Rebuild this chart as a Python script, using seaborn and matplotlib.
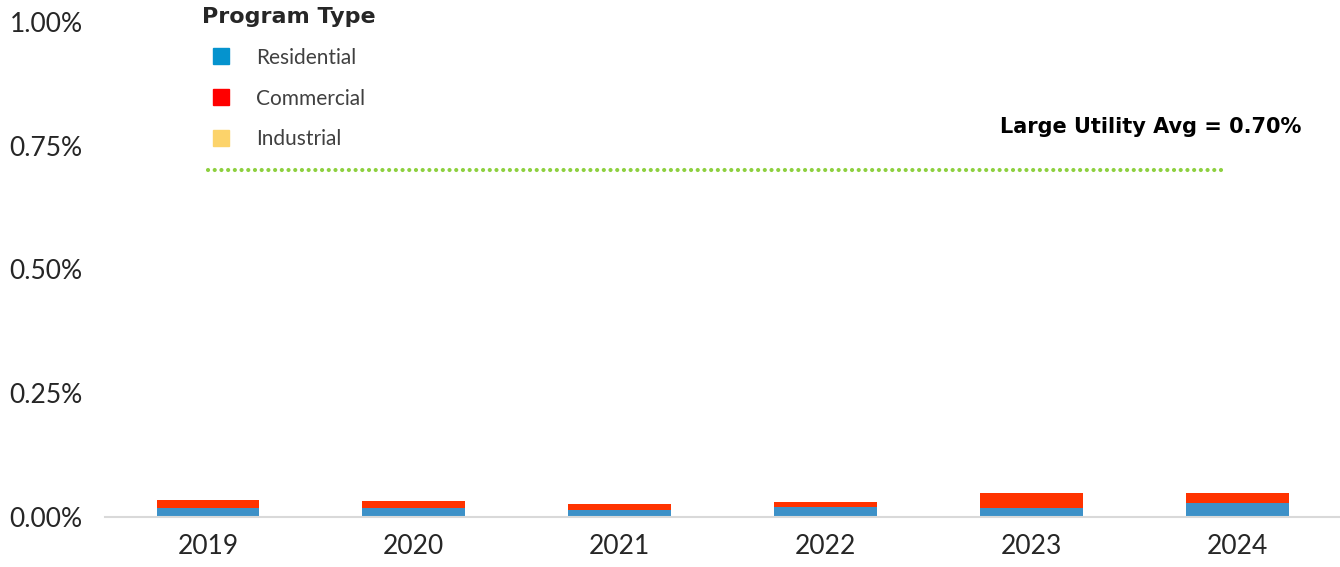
import numpy as np
import pandas as pd
import seaborn as sns
from matplotlib import pyplot as plt
from matplotlib.patches import Patch

# Valores (em %)
years = ["2019", "2020", "2021", "2022", "2023", "2024"]
residential = [0.019, 0.019, 0.015, 0.021, 0.019, 0.028]
commercial = [0.015, 0.013, 0.011, 0.010, 0.029, 0.020]
industrial = [0.0, 0.0, 0.0, 0.0, 0.0, 0.0]
large_utility_avg = 0.70

df = pd.DataFrame({
    "year": years,
    "residential": residential,
    "commercial": commercial,
    "industrial": industrial,
})
df["res_com"] = df["residential"] + df["commercial"]
df["total"] = df["res_com"] + df["industrial"]

sns.set_style("white")
plt.rcParams["font.family"] = ["Lato", "DejaVu Sans"]

fig = plt.figure(figsize=(13.4, 5.67), dpi=100)
ax = fig.add_axes([0.0784, 0.0882, 0.9216, 0.873])

# Barras empilhadas: total primeiro, depois as camadas inferiores por cima
bar_kws = dict(saturation=1, width=0.5, linewidth=0, ax=ax)
sns.barplot(data=df, x="year", y="total", color="#fcd36a", **bar_kws)
sns.barplot(data=df, x="year", y="res_com", color="#ff3300", **bar_kws)
sns.barplot(data=df, x="year", y="residential", color="#3d91c8", **bar_kws)

# Linha média das grandes empresas
ax.hlines(large_utility_avg, 0, 4.95, colors="#8dd03f", linewidth=3,
          linestyles=(0, (0.01, 1.6)), capstyle="round")
ax.text(5.31, 0.788, "Large Utility Avg = 0.70%", ha="right", va="center",
        fontsize=15, fontweight="bold", color="black", family="DejaVu Sans")

ax.set_ylim(0, 1.0)
ax.set_xlim(-0.5, 5.5)
ax.set_yticks([0, 0.25, 0.5, 0.75, 1.0])
ax.set_yticklabels(["0.00%", "0.25%", "0.50%", "0.75%", "1.00%"])
ax.tick_params(axis="both", length=0, labelsize=19, colors="#262626")
ax.tick_params(axis="y", pad=16)
ax.tick_params(axis="x", pad=12)
ax.set_xlabel("")
ax.set_ylabel("")

for side in ["top", "right", "left"]:
    ax.spines[side].set_visible(False)
ax.spines["bottom"].set_color("#d9d9d9")
ax.spines["bottom"].set_linewidth(1.5)

handles = [
    Patch(color="#0593ce", label="Residential"),
    Patch(color="#ff0000", label="Commercial"),
    Patch(color="#fcd36a", label="Industrial"),
]
leg = fig.legend(handles=handles, title="Program Type", loc="upper left",
                 bbox_to_anchor=(0.137, 1.021), frameon=False, fontsize=15,
                 handlelength=0.8, handleheight=0.8, handletextpad=1.3,
                 labelspacing=1.0, title_fontproperties={"weight": "bold", "size": 16,
                                                         "family": "DejaVu Sans"})
for t in leg.get_texts():
    t.set_color("#404040")

fig.savefig("out.png", dpi=100)
